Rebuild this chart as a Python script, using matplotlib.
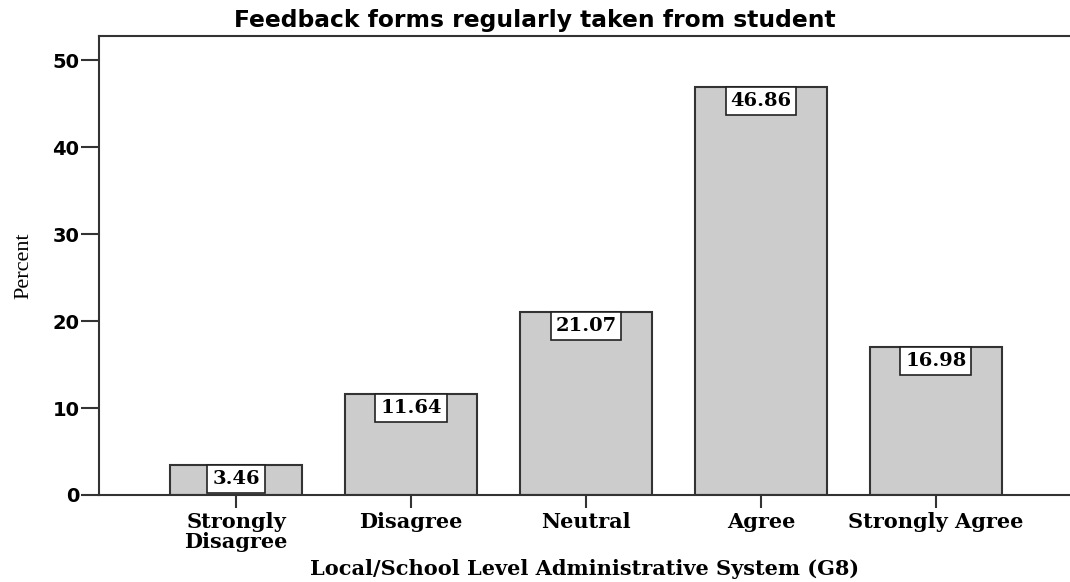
import numpy as np
import matplotlib
matplotlib.use('Agg')
import matplotlib.pyplot as plt

# du lieu bieu do
categories = ['Strongly\nDisagree', 'Disagree', 'Neutral', 'Agree', 'Strongly Agree']
percent = [3.46, 11.64, 21.07, 46.86, 16.98]
yticks = [0, 10, 20, 30, 40, 50]

fig = plt.figure(figsize=(10.70, 5.82), dpi=100)
ax = fig.add_axes([99/1070, 1 - 495/582, 1 - 99/1070, (495 - 36)/582])

x = np.arange(len(categories))
bars = ax.bar(x, percent, width=0.754, color='#cccccc', edgecolor='#333333', linewidth=1.5, zorder=2)

# nhan gia tri trong hop trang o dau cot
for xi, v in zip(x, percent):
    ax.annotate('{:.2f}'.format(v), xy=(xi, v), xytext=(0, -3.6), textcoords='offset points',
                ha='center', va='top', fontsize=14, fontweight='bold', family='DejaVu Serif',
                bbox=dict(boxstyle='square,pad=0.25', fc='white', ec='#222222', lw=1.2), zorder=3)

ax.set_xlim(-0.783, 4.766)
ax.set_ylim(0, 52.76)
ax.set_yticks(yticks)
ax.set_yticklabels([str(t) for t in yticks], fontsize=14, fontweight='bold', family='DejaVu Sans')
ax.set_xticks(x)
ax.set_xticklabels(categories, fontsize=15, fontweight='bold', family='DejaVu Serif', linespacing=1.0)
ax.tick_params(axis='y', length=13, width=1.5, color='#333333', pad=1)
ax.tick_params(axis='x', length=9.5, width=1.5, color='#333333', pad=3)

for s in ['left', 'bottom', 'top']:
    ax.spines[s].set_linewidth(1.5)
    ax.spines[s].set_color('#333333')
ax.spines['right'].set_visible(False)

ax.set_ylabel('Percent', fontsize=16, family='Liberation Serif')
ax.yaxis.set_label_coords(-66/971, 0.5)

fig.text(585/1070, 1 - 569/582, 'Local/School Level Administrative System (G8)', ha='center', va='center',
         fontsize=15, fontweight='bold', family='DejaVu Serif')
fig.text(535/1070, 1 - 20/582, 'Feedback forms regularly taken from student', ha='center', va='center',
         fontsize=16.8, fontweight='bold', family='DejaVu Sans')

fig.savefig('out.png', dpi=100)
